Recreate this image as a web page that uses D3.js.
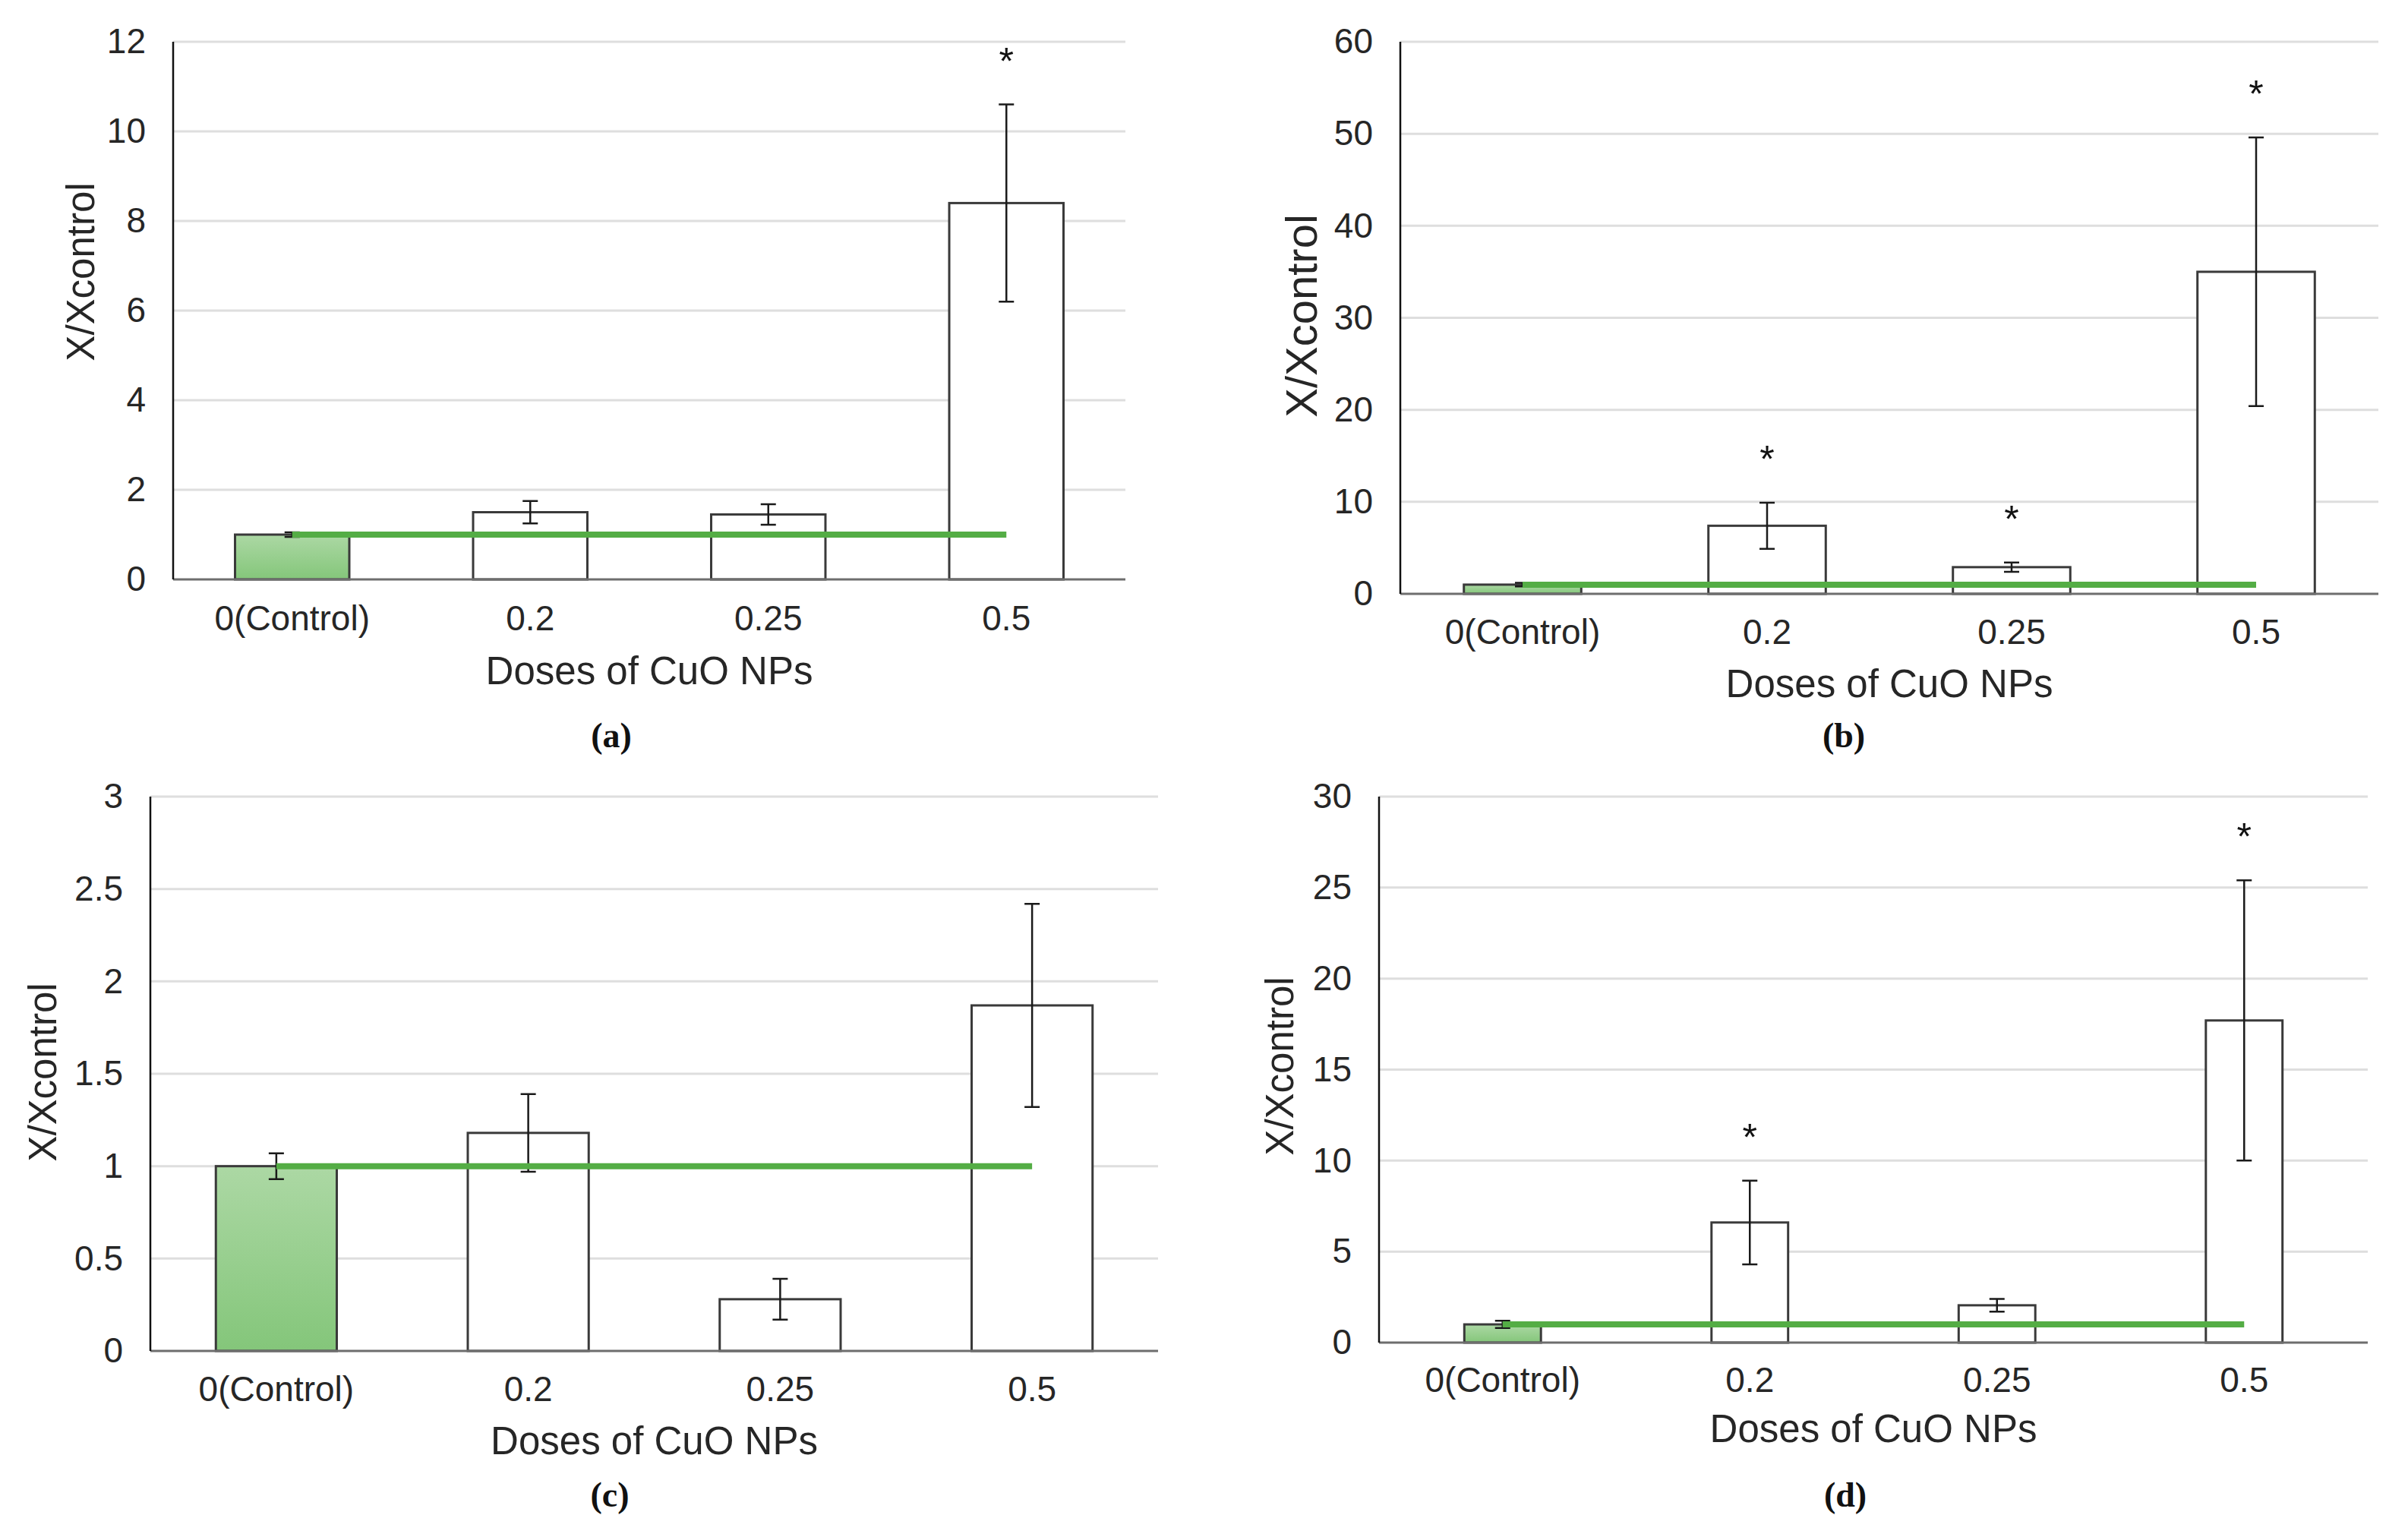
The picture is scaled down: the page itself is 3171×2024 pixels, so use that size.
<!DOCTYPE html>
<html>
<head>
    <meta charset="utf-8">
    <title>CuO NPs dose response</title>
    <style>
        body { margin: 0; background: #fff; }
        svg { display: block; }
        .tick-label { font: 46px "Liberation Sans", Arial, sans-serif; fill: #262626; }
        .axis-title { font: 51px "Liberation Sans", Arial, sans-serif; fill: #262626; }
        .caption { font: bold 46px "Liberation Serif", "Times New Roman", serif; fill: #111; }
        .grid { stroke: #dedede; stroke-width: 3px; }
        .bar { stroke: #3a3a3a; stroke-width: 3px; }
        .err { stroke: #1a1a1a; stroke-width: 2.5px; fill: none; }
        .ref-line { stroke: #54ad45; stroke-width: 8px; fill: none; }
        .star { font: 50px "Liberation Sans", Arial, sans-serif; fill: #111; text-anchor: middle; }
    </style>
</head>
<body>
    <svg width="3171" height="2024"></svg>

    <script src="https://cdn.jsdelivr.net/npm/d3@7"></script>
    <script>
        // categories shared by all four panels
        const doses = ["0(Control)", "0.2", "0.25", "0.5"];

        // (a)
        const meanA = [1.0, 1.5, 1.45, 8.4];
        const errA = [0.05, 0.25, 0.23, 2.2];
        const sigA = [false, false, false, true];
        const ticksA = [0, 2, 4, 6, 8, 10, 12];

        // (b)
        const meanB = [1.0, 7.4, 2.9, 35.0];
        const errB = [0.2, 2.5, 0.5, 14.6];
        const sigB = [false, true, true, true];
        const ticksB = [0, 10, 20, 30, 40, 50, 60];

        // (c)
        const meanC = [1.0, 1.18, 0.28, 1.87];
        const errC = [0.07, 0.21, 0.11, 0.55];
        const sigC = [false, false, false, false];
        const ticksC = [0, 0.5, 1, 1.5, 2, 2.5, 3];

        // (d)
        const meanD = [1.0, 6.6, 2.05, 17.7];
        const errD = [0.2, 2.3, 0.35, 7.7];
        const sigD = [false, true, false, true];
        const ticksD = [0, 5, 10, 15, 20, 25, 30];

        const controlLevel = 1;

        const svg = d3.select("svg");

        const defs = svg.append("defs");
        const grad = defs.append("linearGradient")
            .attr("id", "ctrlFill")
            .attr("x1", 0).attr("y1", 0).attr("x2", 0).attr("y2", 1);
        grad.append("stop").attr("offset", "0%").attr("stop-color", "#acd8a4");
        grad.append("stop").attr("offset", "100%").attr("stop-color", "#84c67a");

        const panels = [
            { means: meanA, errs: errA, sig: sigA, ticks: ticksA, label: "(a)",
              left: 228, right: 1482, top: 55, bottom: 763, barFrac: 0.48,
              yTitleX: 111, yTitleY: 358, yTitleSize: 51, xLabY: 818, xTitleY: 888, capY: 973, capX: 805 },
            { means: meanB, errs: errB, sig: sigB, ticks: ticksB, label: "(b)",
              left: 1844, right: 3132, top: 55, bottom: 782, barFrac: 0.48,
              yTitleX: 1719, yTitleY: 416, yTitleSize: 58, xLabY: 836, xTitleY: 905, capY: 973, capX: 2428 },
            { means: meanC, errs: errC, sig: sigC, ticks: ticksC, label: "(c)",
              left: 198, right: 1525, top: 1049, bottom: 1779, barFrac: 0.48,
              yTitleX: 61, yTitleY: 1412, yTitleSize: 51, xLabY: 1833, xTitleY: 1902, capY: 1973, capX: 803 },
            { means: meanD, errs: errD, sig: sigD, ticks: ticksD, label: "(d)",
              left: 1816, right: 3118, top: 1049, bottom: 1768, barFrac: 0.31,
              yTitleX: 1690, yTitleY: 1404, yTitleSize: 51, xLabY: 1821, xTitleY: 1886, capY: 1973, capX: 2430 }
        ];

        panels.forEach(p => drawPanel(p));

        function drawPanel(p) {
            const g = svg.append("g");
            const ymax = p.ticks[p.ticks.length - 1];

            const x = d3.scaleBand()
                .domain(doses)
                .range([p.left, p.right])
                .paddingInner(1 - p.barFrac)
                .paddingOuter((1 - p.barFrac) / 2);

            const y = d3.scaleLinear().domain([0, ymax]).range([p.bottom, p.top]);

            // gridlines
            g.selectAll(".grid")
                .data(p.ticks.filter(t => t > 0))
                .enter().append("line")
                .attr("class", "grid")
                .attr("x1", p.left).attr("x2", p.right)
                .attr("y1", d => y(d)).attr("y2", d => y(d));

            // y tick labels
            const yAxis = g.append("g")
                .attr("transform", `translate(${p.left},0)`)
                .call(d3.axisLeft(y).tickValues(p.ticks).tickSize(0).tickPadding(36)
                    .tickFormat(d3.format("~g")));
            yAxis.select(".domain").remove();
            yAxis.selectAll("text").attr("class", "tick-label").attr("fill", null)
                .style("font-size", "46px").style("font-family", "Liberation Sans, Arial, sans-serif");

            // bars
            g.selectAll(".bar")
                .data(p.means)
                .enter().append("rect")
                .attr("class", "bar")
                .attr("x", (d, i) => x(doses[i]))
                .attr("width", x.bandwidth())
                .attr("y", d => y(d))
                .attr("height", d => p.bottom - y(d))
                .attr("fill", (d, i) => i === 0 ? "url(#ctrlFill)" : "#fff");

            // error bars
            const cx = i => x(doses[i]) + x.bandwidth() / 2;
            const cap = 10;
            p.means.forEach((m, i) => {
                const lo = y(m - p.errs[i]), hi = y(m + p.errs[i]);
                g.append("path")
                    .attr("class", "err")
                    .attr("d", `M${cx(i)},${lo}V${hi}M${cx(i) - cap},${hi}H${cx(i) + cap}M${cx(i) - cap},${lo}H${cx(i) + cap}`);
            });

            // axes lines
            g.append("line")
                .attr("x1", p.left).attr("x2", p.right)
                .attr("y1", p.bottom).attr("y2", p.bottom)
                .attr("stroke", "#6e6e6e").attr("stroke-width", 3);
            g.append("line")
                .attr("x1", p.left).attr("x2", p.left)
                .attr("y1", p.top).attr("y2", p.bottom)
                .attr("stroke", "#111").attr("stroke-width", 2.5);

            // control reference line
            g.append("line")
                .attr("class", "ref-line")
                .attr("x1", cx(0)).attr("x2", cx(doses.length - 1))
                .attr("y1", y(controlLevel)).attr("y2", y(controlLevel));

            // significance stars
            p.means.forEach((m, i) => {
                if (!p.sig[i]) return;
                g.append("text")
                    .attr("class", "star")
                    .attr("x", cx(i))
                    .attr("y", y(m + p.errs[i]) - 40)
                    .text("*");
            });

            // x tick labels
            g.selectAll(".xlab")
                .data(doses)
                .enter().append("text")
                .attr("class", "tick-label")
                .attr("text-anchor", "middle")
                .attr("dominant-baseline", "middle")
                .attr("x", d => x(d) + x.bandwidth() / 2)
                .attr("y", p.xLabY)
                .text(d => d);

            // axis titles
            g.append("text")
                .attr("class", "axis-title")
                .attr("text-anchor", "middle")
                .attr("dominant-baseline", "middle")
                .attr("x", (p.left + p.right) / 2)
                .attr("y", p.xTitleY)
                .text("Doses of CuO NPs");

            g.append("text")
                .attr("class", "axis-title")
                .attr("text-anchor", "middle")
                .attr("dominant-baseline", "middle")
                .style("font-size", p.yTitleSize + "px")
                .attr("transform", `translate(${p.yTitleX},${p.yTitleY}) rotate(-90)`)
                .text("X/Xcontrol");

            // panel caption
            g.append("text")
                .attr("class", "caption")
                .attr("text-anchor", "middle")
                .attr("dominant-baseline", "middle")
                .attr("x", p.capX)
                .attr("y", p.capY)
                .text(p.label);
        }
    </script>
</body>
</html>
